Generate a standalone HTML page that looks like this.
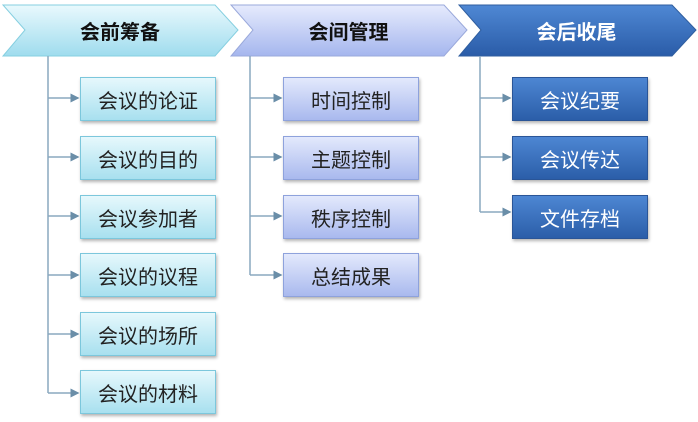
<!DOCTYPE html><html><head><meta charset="utf-8"><style>
body{margin:0;width:698px;height:422px;background:#fff;position:relative;font-family:"Liberation Sans","Noto Sans CJK SC",sans-serif;overflow:hidden}
.b{position:absolute;width:136px;height:44px;box-sizing:border-box;display:flex;align-items:center;justify-content:center;font-size:20px;box-shadow:1px 2px 3px rgba(0,0,0,.3)}
.c1{background:linear-gradient(#e6f8fc,#a8e0ef);border:1px solid #7cc7dc;color:#222}
.c2{background:linear-gradient(#e3e9fc,#a9b9ee);border:1px solid #8ea2dc;color:#222}
.c3{background:linear-gradient(#4d86d3,#2b5ea9);border:1px solid #2a5597;color:#fff}
.t{position:absolute;top:5px;height:50px;display:flex;align-items:center;justify-content:center;font-size:20px;font-weight:bold}
</style></head><body>
<svg width="698" height="422" style="position:absolute;left:0;top:0">
<defs>
<linearGradient id="g1" x1="0" y1="0" x2="0" y2="1"><stop offset="0" stop-color="#e9f9fd"/><stop offset="1" stop-color="#9fdcee"/></linearGradient>
<linearGradient id="g2" x1="0" y1="0" x2="0" y2="1"><stop offset="0" stop-color="#e6ebfd"/><stop offset="1" stop-color="#a5b6ee"/></linearGradient>
<linearGradient id="g3" x1="0" y1="0" x2="0" y2="1"><stop offset="0" stop-color="#4f88d4"/><stop offset="1" stop-color="#2a5ca8"/></linearGradient>
<marker id="a" markerWidth="6" markerHeight="6" refX="5" refY="3" orient="auto"><path d="M0,0L6,3L0,6z" fill="#6a8ea8"/></marker>
</defs>
<polygon points="3,5 215,5 238,30 215,56 3,56 25,30" fill="url(#g1)" stroke="#86cfe0"/>
<polygon points="231,5 444,5 467,30 444,56 231,56 253,30" fill="url(#g2)" stroke="#9aa9db"/>
<polygon points="459,5 672,5 696,30 672,56 459,56 481,30" fill="url(#g3)" stroke="#2f5e9f"/>
<g stroke="#8aa8bf" stroke-width="1.5" fill="none">
<path d="M48,56V393"/><path d="M250,56V275"/><path d="M480,56V212"/>
<path d="M48,98H78" marker-end="url(#a)"/><path d="M48,157H78" marker-end="url(#a)"/><path d="M48,216H78" marker-end="url(#a)"/><path d="M48,275H78" marker-end="url(#a)"/><path d="M48,334H78" marker-end="url(#a)"/><path d="M48,393H78" marker-end="url(#a)"/>
<path d="M250,98H281" marker-end="url(#a)"/><path d="M250,157H281" marker-end="url(#a)"/><path d="M250,216H281" marker-end="url(#a)"/><path d="M250,275H281" marker-end="url(#a)"/>
<path d="M480,98H510" marker-end="url(#a)"/><path d="M480,157H510" marker-end="url(#a)"/><path d="M480,212H510" marker-end="url(#a)"/>
</g></svg>
<div class="t" style="left:25px;width:190px;color:#111">会前筹备</div>
<div class="t" style="left:253px;width:191px;color:#111">会间管理</div>
<div class="t" style="left:481px;width:191px;color:#fff">会后收尾</div>
<div class="b c1" style="left:80px;top:77px">会议的论证</div>
<div class="b c1" style="left:80px;top:136px">会议的目的</div>
<div class="b c1" style="left:80px;top:195px">会议参加者</div>
<div class="b c1" style="left:80px;top:253px">会议的议程</div>
<div class="b c1" style="left:80px;top:312px">会议的场所</div>
<div class="b c1" style="left:80px;top:370px">会议的材料</div>
<div class="b c2" style="left:283px;top:77px">时间控制</div>
<div class="b c2" style="left:283px;top:136px">主题控制</div>
<div class="b c2" style="left:283px;top:195px">秩序控制</div>
<div class="b c2" style="left:283px;top:253px">总结成果</div>
<div class="b c3" style="left:512px;top:77px">会议纪要</div>
<div class="b c3" style="left:512px;top:136px">会议传达</div>
<div class="b c3" style="left:512px;top:195px">文件存档</div>
</body></html>
